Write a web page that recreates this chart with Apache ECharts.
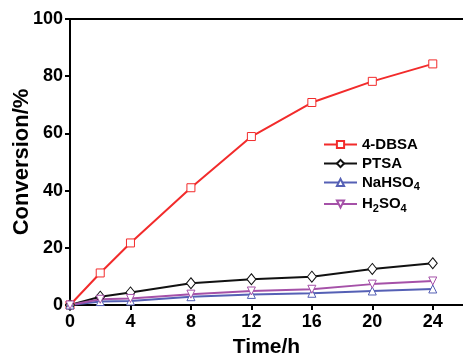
<!DOCTYPE html>
<html>
<head>
<meta charset="utf-8">
<script src="https://cdn.jsdelivr.net/npm/echarts@6/dist/echarts.min.js"></script>
<style>
  html, body { margin: 0; padding: 0; background: #fff; }
  #chart { width: 463px; height: 360px; }
</style>
</head>
<body>
<div id="chart"></div>
<script>
// Reaction time (h)
const times = [0, 2, 4, 8, 12, 16, 20, 24];
// Conversion (%) for each catalyst
const dbsa   = [0, 11.2, 21.7, 41.0, 58.9, 70.8, 78.2, 84.3];
const ptsa   = [0, 2.9, 4.4, 7.6, 9.0, 9.9, 12.6, 14.6];
const nahso4 = [0, 1.2, 1.4, 2.9, 3.7, 4.1, 4.9, 5.6];
const h2so4  = [0, 2.0, 2.3, 3.8, 4.9, 5.5, 7.3, 8.4];
const xTicks = [0, 4, 8, 12, 16, 20, 24];
const yTicks = [0, 20, 40, 60, 80, 100];

const FONT = 'Liberation Sans, Arial, sans-serif';

function pairs(ys) { return times.map((t, i) => [t, ys[i]]); }

function makeSeries(name, ys, color, symbol, rotate) {
  return {
    name, type: 'line', data: pairs(ys),
    symbol, symbolSize: symbol === 'diamond' ? [9, 11] : 8,
    symbolRotate: rotate || 0,
    showAllSymbol: true,
    lineStyle: { color, width: 2 },
    itemStyle: { color: '#fff', borderColor: color, borderWidth: 1 },
    emphasis: { disabled: true }
  };
}

const chart = echarts.init(document.getElementById('chart'), null, { renderer: 'canvas' });
chart.setOption({
  animation: false,
  backgroundColor: '#fff',
  grid: { left: 70, top: 19, right: 0, bottom: 55, containLabel: false, outerBoundsMode: 'none' },
  xAxis: [{
    type: 'value', min: 0, max: 26, interval: 4,
    name: 'Time/h', nameLocation: 'middle', nameGap: 32, nameMoveOverlap: false,
    nameTextStyle: { fontFamily: FONT, fontWeight: 'bold', fontSize: 21, color: '#000' },
    axisLine: { lineStyle: { color: '#000', width: 2 } },
    axisTick: { length: 5, lineStyle: { color: '#000', width: 2 }, customValues: xTicks },
    axisLabel: { customValues: xTicks, fontFamily: FONT, fontWeight: 'bold', fontSize: 18, color: '#000', margin: 8 },
    splitLine: { show: false }
  }, {
    type: 'value', position: 'top', min: 0, max: 26,
    axisLine: { show: true, onZero: false, lineStyle: { color: '#000', width: 2 } },
    axisTick: { show: false }, axisLabel: { show: false }, splitLine: { show: false }
  }],
  yAxis: {
    type: 'value', min: 0, max: 100, interval: 20,
    name: 'Conversion/%', nameLocation: 'middle', nameGap: 37, nameMoveOverlap: false,
    nameTextStyle: { fontFamily: FONT, fontWeight: 'bold', fontSize: 22, color: '#000' },
    axisLine: { show: true, lineStyle: { color: '#000', width: 2 } },
    axisTick: { show: true, length: 5, lineStyle: { color: '#000', width: 2 } },
    axisLabel: { fontFamily: FONT, fontWeight: 'bold', fontSize: 18, color: '#000', margin: 7,
                 formatter: v => yTicks.includes(v) ? String(v) : '' },
    splitLine: { show: false }
  },
  legend: {
    orient: 'vertical', left: 318, top: 132,
    itemWidth: 33, itemHeight: 9, itemGap: 4,
    textStyle: {
      fontFamily: FONT, fontWeight: 'bold', fontSize: 15, color: '#000',
      rich: {
        n: { fontFamily: FONT, fontWeight: 'bold', fontSize: 15, color: '#000' },
        s: { fontFamily: FONT, fontWeight: 'bold', fontSize: 11, color: '#000', verticalAlign: 'bottom', padding: [9, 0, 0, 0] }
      }
    },
    formatter: function (name) {
      if (name === 'NaHSO4') return '{n|NaHSO}{s|4}';
      if (name === 'H2SO4') return '{n|H}{s|2}{n|SO}{s|4}';
      return '{n|' + name + '}';
    },
    data: ['4-DBSA', 'PTSA', 'NaHSO4', 'H2SO4']
  },
  series: [
    makeSeries('4-DBSA', dbsa, '#f22b2b', 'rect'),
    makeSeries('PTSA', ptsa, '#111111', 'diamond'),
    makeSeries('NaHSO4', nahso4, '#5560b5', 'triangle'),
    makeSeries('H2SO4', h2so4, '#a551a8', 'triangle', 180)
  ]
});
</script>
</body>
</html>
